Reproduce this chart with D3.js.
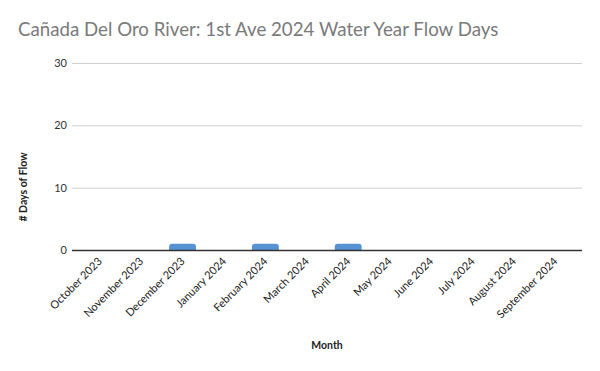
<!DOCTYPE html>
<meta charset="utf-8">
<style>
  body { margin: 0; background: #fff; }
  text { font-family: Lato, "Open Sans", sans-serif; }
  .grid line { stroke: #d0d0d0; stroke-width: 1; }
</style>
<body>
<script src="https://d3js.org/d3.v7.min.js"></script>
<script>

const width = 600;
const height = 371;

const months = ["October 2023", "November 2023", "December 2023", "January 2024",
  "February 2024", "March 2024", "April 2024", "May 2024", "June 2024",
  "July 2024", "August 2024", "September 2024"];
const flowDays = [0, 0, 1, 0, 1, 0, 1, 0, 0, 0, 0, 0];
const yTicks = [0, 10, 20, 30];

const plot = {left: 72, right: 582, top: 63, bottom: 250};

const svg = d3.select("body")
              .append("svg")
              .attr("width", width)
              .attr("height", height);

const xScale = d3.scaleBand()
                 .domain(months)
                 .range([79, 576])
                 .paddingInner(0.35)
                 .paddingOuter(0.175);

const yScale = d3.scaleLinear()
                 .domain([0, 30])
                 .range([plot.bottom, plot.top]);

// title
svg.append("text")
   .attr("x", 18)
   .attr("y", 36)
   .attr("fill", "#7a7a7a")
   .attr("font-size", 18.7)
   .text("Cañada Del Oro River: 1st Ave 2024 Water Year Flow Days");

// gridlines
svg.append("g")
   .attr("class", "grid")
   .selectAll("line")
   .data(yTicks.filter(d => d > 0))
   .enter().append("line")
   .attr("x1", plot.left)
   .attr("x2", plot.right)
   .attr("y1", d => yScale(d) + 0.5)
   .attr("y2", d => yScale(d) + 0.5);

// y tick labels
svg.append("g")
   .selectAll("text")
   .data(yTicks)
   .enter().append("text")
   .attr("x", 67)
   .attr("y", d => yScale(d))
   .attr("dy", "0.35em")
   .attr("text-anchor", "end")
   .attr("font-size", 11)
   .attr("fill", "#333")
   .text(d => d);

// bars with rounded tops
const r = 3;
svg.append("g")
   .selectAll("path")
   .data(flowDays.map((v, i) => ({month: months[i], value: v})).filter(d => d.value > 0))
   .enter().append("path")
   .attr("fill", "#5793d4")
   .attr("d", d => {
     const x0 = xScale(d.month), x1 = x0 + xScale.bandwidth();
     const y0 = yScale(0), y1 = yScale(d.value);
     return `M${x0},${y0}V${y1 + r}Q${x0},${y1} ${x0 + r},${y1}H${x1 - r}Q${x1},${y1} ${x1},${y1 + r}V${y0}Z`;
   });

// baseline
svg.append("line")
   .attr("x1", plot.left)
   .attr("x2", plot.right)
   .attr("y1", yScale(0) + 0.5)
   .attr("y2", yScale(0) + 0.5)
   .attr("stroke", "#333")
   .attr("stroke-width", 1.3);

// x labels
svg.append("g")
   .selectAll("text")
   .data(months)
   .enter().append("text")
   .attr("transform", d => `translate(${xScale(d) + xScale.bandwidth() / 2 + 3},${262}) rotate(-45)`)
   .attr("text-anchor", "end")
   .attr("font-size", 11)
   .attr("fill", "#222")
   .text(d => d);

// axis titles
svg.append("text")
   .attr("transform", "translate(27,187) rotate(-90)")
   .attr("text-anchor", "middle")
   .attr("font-size", 10.5)
   .attr("font-weight", "bold")
   .attr("fill", "#222")
   .text("# Days of Flow");

svg.append("text")
   .attr("x", 327)
   .attr("y", 349)
   .attr("text-anchor", "middle")
   .attr("font-size", 10.5)
   .attr("font-weight", "bold")
   .attr("fill", "#222")
   .text("Month");
</script>
</body>
